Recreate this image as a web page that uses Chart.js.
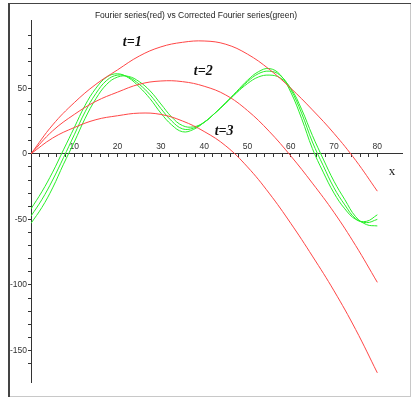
<!DOCTYPE html>
<html>
<head>
<meta charset="utf-8">
<script src="https://cdn.jsdelivr.net/npm/chart.js@4.4.1/dist/chart.umd.min.js"></script>
<style>
html, body { margin: 0; padding: 0; background: #fff; }
canvas { display: block; }
</style>
</head>
<body>
<canvas id="c" width="413" height="398"></canvas>
<script>
// values
const redX = [0, 5, 10, 15, 20, 25, 30, 35, 40, 45, 50, 55, 60, 65, 70, 75, 80];
const redT1 = [0, 22, 39, 53, 64, 74.5, 81.5, 85, 86, 83.5, 76, 64.5, 50, 33.5, 15.5, -5, -28.5];
const redT2 = [0, 17.5, 30, 40, 47, 53, 55.5, 55, 51.5, 44.8, 33, 17.2, -1.6, -22.4, -44.7, -70, -98];
const redT3 = [0, 12, 20, 26, 29, 31, 30, 25, 17, 6, -10, -30, -53, -78, -104.5, -134, -167];

const greenX = [0, 2.5, 5, 7.5, 10, 12.5, 15, 17.5, 20, 22.5, 25, 27.5, 30, 32.5, 35, 37.5, 40,
  42.5, 45, 47.5, 50, 52.5, 55, 57.5, 60, 62.5, 65, 67.5, 70, 72.5, 75, 77.5, 80];
const greenT1 = [-42, -29, -14, 3, 20, 37, 50, 58.5, 61, 58, 51, 42, 31, 22, 16.8, 18.5, 24,
  31, 39, 47.5, 56, 62.5, 65, 60.5, 47, 27, 4, -14, -30, -42, -50, -51.5, -46.5];
const greenT2 = [-47.5, -35, -20, -3, 14.5, 32, 46, 56, 60, 58.5, 53, 45, 34.5, 25, 19, 19.5, 24,
  31, 39, 47, 55, 61, 63, 60, 49, 31, 9, -9, -26, -39, -49.5, -52.5, -50];
const greenT3 = [-53, -41, -26, -8, 9, 27, 42, 53, 58.5, 59, 55, 48, 38, 28, 21.5, 20.5, 24,
  31, 38.5, 46.5, 53.5, 58.5, 60, 58, 50, 34, 14, -4, -21, -35, -48, -54, -55];

const xTickLabels = [10, 20, 30, 40, 50, 60, 70, 80];
const yTickLabels = [-150, -100, -50, 0, 50];
const curveLabels = ['t=1', 't=2', 't=3'];
const titleText = 'Fourier series(red) vs Corrected Fourier series(green)';

function pts(xs, ys) {
  return xs.map((x, i) => ({ x: x, y: ys[i] }));
}

const RED = 'rgb(255,70,70)';
const GREEN = 'rgb(40,240,40)';
const AXIS = '#333';

const decorations = {
  id: 'decorations',
  beforeDraw(chart) {
    const ctx = chart.ctx;
    ctx.save();
    ctx.fillStyle = '#fff';
    ctx.fillRect(0, 0, chart.width, chart.height);
    // window frame
    ctx.fillStyle = '#c8c8c8';
    ctx.fillRect(410, 3, 1, 394);
    ctx.fillRect(8, 396, 403, 1);
    ctx.fillStyle = '#444';
    ctx.fillRect(8, 3, 403, 1);
    ctx.fillRect(8, 3, 2, 394);
    ctx.restore();
  },
  afterDraw(chart) {
    const ctx = chart.ctx;
    const xs = chart.scales.x, ys = chart.scales.y;
    ctx.save();
    ctx.fillStyle = '#222';
    ctx.textAlign = 'center';
    ctx.textBaseline = 'middle';
    ctx.font = '8.5px "Liberation Sans"';
    ctx.fillText(titleText, 196, 16);

    ctx.fillStyle = '#111';
    ctx.font = 'bold italic 14px "Liberation Serif"';
    const spots = [[23.4, 85.3], [39.8, 63], [44.6, 17.3]];
    curveLabels.forEach((t, i) => {
      ctx.fillText(t, xs.getPixelForValue(spots[i][0]), ys.getPixelForValue(spots[i][1]));
    });

    ctx.font = '13px "Liberation Serif"';
    ctx.fillStyle = '#222';
    ctx.fillText('x', xs.getPixelForValue(83.4), ys.getPixelForValue(-13.2));
    ctx.restore();
  }
};

const line = (data, color) => ({
  data: data,
  borderColor: color,
  borderWidth: 1,
  pointRadius: 0,
  tension: 0.4,
  fill: false
});

new Chart(document.getElementById('c'), {
  type: 'line',
  data: {
    datasets: [
      line(pts(redX, redT1), RED),
      line(pts(redX, redT2), RED),
      line(pts(redX, redT3), RED),
      line(pts(greenX, greenT1), GREEN),
      line(pts(greenX, greenT2), GREEN),
      line(pts(greenX, greenT3), GREEN)
    ]
  },
  options: {
    responsive: false,
    animation: false,
    layout: { autoPadding: false, padding: { left: 0, right: 11, top: 20, bottom: 16 } },
    plugins: {
      legend: { display: false },
      title: { display: false },
      tooltip: { enabled: false }
    },
    scales: {
      x: {
        type: 'linear',
        min: 0,
        max: 85.7,
        position: { y: 0 },
        afterBuildTicks: s => { s.ticks = s.ticks.filter(t => t.value <= 80 && t.value % 2 === 0); },
        ticks: {
          stepSize: 2,
          maxTicksLimit: 100,
          autoSkip: false,
          maxRotation: 0,
          padding: -15,
          color: AXIS,
          font: { family: 'Liberation Sans', size: 8.5 },
          callback: v => xTickLabels.includes(v) ? String(v) : ''
        },
        grid: { drawOnChartArea: false, tickLength: 3, color: AXIS },
        border: { color: AXIS, width: 1 }
      },
      y: {
        type: 'linear',
        min: -174,
        max: 102,
        position: 'left',
        afterFit: s => { s.width = 31; },
        afterBuildTicks: s => { s.ticks = s.ticks.filter(t => t.value >= -170 && t.value <= 90 && t.value % 10 === 0); },
        ticks: {
          stepSize: 10,
          maxTicksLimit: 100,
          autoSkip: false,
          padding: 1,
          color: AXIS,
          font: { family: 'Liberation Sans', size: 8.5 },
          callback: v => yTickLabels.includes(v) ? String(v) : ''
        },
        grid: { drawOnChartArea: false, tickLength: 3, color: AXIS },
        border: { color: AXIS, width: 1 }
      }
    }
  },
  plugins: [decorations]
});
</script>
</body>
</html>
